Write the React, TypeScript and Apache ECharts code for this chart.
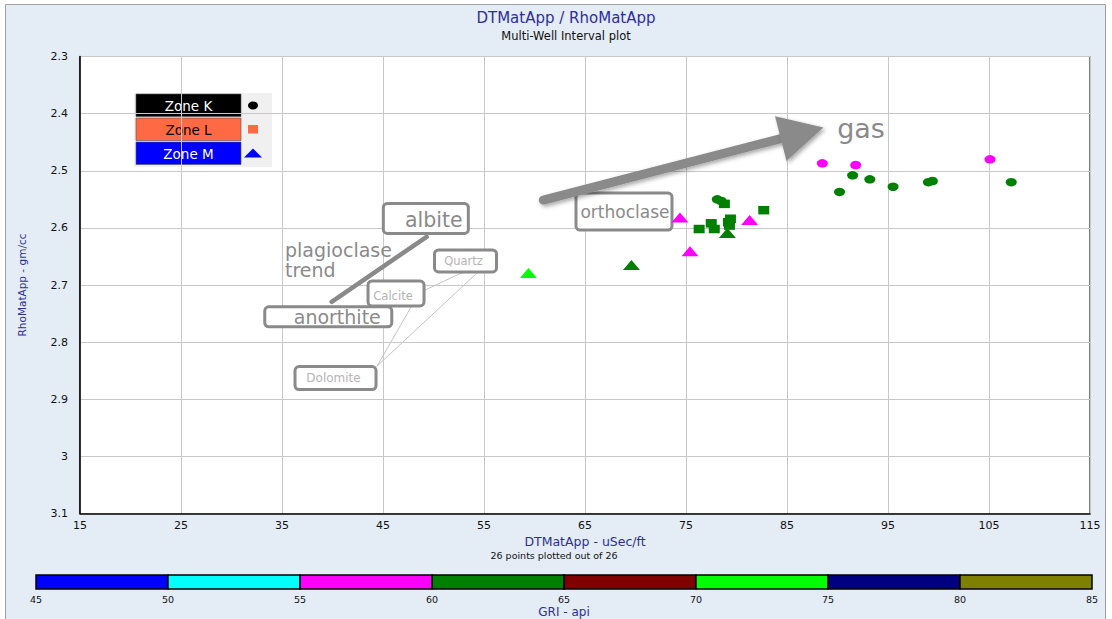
import React, { useEffect, useRef } from 'react';
import * as echarts from 'echarts';

// ---- axis ticks ----
const X_TICKS = [15, 25, 35, 45, 55, 65, 75, 85, 95, 105, 115];
const Y_TICKS = [2.3, 2.4, 2.5, 2.6, 2.7, 2.8, 2.9, 3.0, 3.1];
const GRI_TICKS = [45, 50, 55, 60, 65, 70, 75, 80, 85];
const GRI_COLORS = ['#0000FF', '#00FFFF', '#FF00FF', '#008000', '#800000', '#00FF00', '#000080', '#808000'];

// ---- zones (legend) ----
const ZONES = ['Zone K', 'Zone L', 'Zone M'];
const ZONE_COLORS = ['#000000', '#FF6A45', '#0000FF'];
const ZONE_TEXT = ['#ffffff', '#000000', '#ffffff'];

// ---- data: [DTMatApp, RhoMatApp, GRI] ----
const ZONE_K = [
  [88.5, 2.487, 57], [91.8, 2.490, 57], [105.1, 2.480, 57],
  [91.5, 2.508, 62], [93.2, 2.515, 62], [90.2, 2.537, 62], [95.5, 2.528, 62],
  [99.0, 2.520, 62], [99.4, 2.518, 62], [107.2, 2.520, 62],
  [78.1, 2.550, 62], [78.5, 2.553, 62],
];
const ZONE_L = [
  [78.8, 2.558, 62], [82.7, 2.569, 62], [76.3, 2.602, 62], [77.5, 2.592, 62],
  [77.8, 2.602, 62], [79.4, 2.584, 62], [79.3, 2.596, 62], [79.2, 2.590, 62],
];
const ZONE_M = [
  [79.1, 2.609, 62], [74.4, 2.582, 57], [81.3, 2.586, 57], [75.4, 2.641, 57],
  [59.4, 2.679, 72], [69.6, 2.665, 62],
];

// ---- mineral annotations (data coordinates) ----
const BOX_LABELS: [string, number, number][] = [
  ['albite', 49.24, 2.5834],
  ['anorthite', 39.58, 2.7557],
  ['Quartz', 53.17, 2.6578],
  ['Calcite', 46.29, 2.7147],
  ['Dolomite', 40.30, 2.863],
  ['orthoclase', 68.86, 2.5715],
];
const FREE_TEXTS: [string, number, number][] = [
  ['plagioclase', 35.3, 2.639],
  ['trend', 35.3, 2.674],
  ['gas', 92.33, 2.4252],
];
const THIN_LINES = [
  [55.89, 2.6529, 49.16, 2.7089],
  [55.89, 2.6529, 44.41, 2.8420],
  [48.17, 2.7264, 44.41, 2.8420],
];
const TREND_LINE = [[39.92, 2.7294, 49.32, 2.6156]];
const GAS_ARROW = [[60.87, 2.5513, 88.6, 2.4245]];

// ---- styles (not data) ----
const FONT = 'DejaVu Sans';
const BOX_STYLE: Record<string, { w: number; h: number; size: number; color: string; dx: number; dy: number }> = {
  albite: { w: 85, h: 30, size: 20.5, color: '#8a8a8a', dx: 8, dy: 2 },
  anorthite: { w: 127, h: 20, size: 19, color: '#8a8a8a', dx: 9, dy: 0 },
  Quartz: { w: 62, h: 22, size: 11.5, color: '#b4b4b4', dx: -2, dy: 0 },
  Calcite: { w: 56, h: 25, size: 11.5, color: '#b4b4b4', dx: -3, dy: 3 },
  Dolomite: { w: 81, h: 23, size: 12, color: '#b4b4b4', dx: -2, dy: 0 },
  orthoclase: { w: 96, h: 37, size: 17, color: '#8a8a8a', dx: 1, dy: 0 },
};
const FREE_STYLE: Record<string, { size: number; align: string; vAlign: string }> = {
  plagioclase: { size: 19, align: 'left', vAlign: 'middle' },
  trend: { size: 19, align: 'left', vAlign: 'middle' },
  gas: { size: 27, align: 'center', vAlign: 'middle' },
};
const NAVY = '#2E2E9A';

function griColor(g: number) {
  let i = Math.floor((g - GRI_TICKS[0]) / (GRI_TICKS[1] - GRI_TICKS[0]));
  i = Math.max(0, Math.min(GRI_COLORS.length - 1, i));
  return GRI_COLORS[i];
}

function buildOption() {
  const step = (a: number[]) => +(a[1] - a[0]).toFixed(6);
  const bins = GRI_TICKS.slice(0, -1).map((v, i) => [v, GRI_TICKS[i + 1], i]);

  const legendChildren: any[] = [
    { type: 'rect', shape: { x: 0, y: 0, width: 138, height: 74 }, style: { fill: '#f0f0f0' } },
  ];
  ZONES.forEach((z, i) => {
    const y0 = 1 + i * 24;
    legendChildren.push({
      type: 'rect', shape: { x: 2, y: y0, width: 105, height: 22.5 },
      style: { fill: ZONE_COLORS[i], stroke: '#555', lineWidth: 0.6 },
    });
    legendChildren.push({
      type: 'text', x: 54.5, y: y0 + 11.5,
      style: { text: z, fill: ZONE_TEXT[i], fontSize: 13.5, fontFamily: FONT, align: 'center', verticalAlign: 'middle' },
    });
    const cx = 119, cy = y0 + 11.5;
    if (i === 0) legendChildren.push({ type: 'ellipse', shape: { cx, cy, rx: 5, ry: 4 }, style: { fill: ZONE_COLORS[i] } });
    if (i === 1) legendChildren.push({ type: 'rect', shape: { x: cx - 5, y: cy - 4.5, width: 10, height: 8.5 }, style: { fill: ZONE_COLORS[i] } });
    if (i === 2) legendChildren.push({ type: 'polygon', shape: { points: [[cx - 9, cy + 4], [cx + 9, cy + 4], [cx, cy - 5]] }, style: { fill: ZONE_COLORS[i] } });
  });

  const colorItem = (p: any) => griColor(p.value[2]);
  const lineRender = (width: number, color: string) => (params: any, api: any) => {
    const p1 = api.coord([api.value(0), api.value(1)]);
    const p2 = api.coord([api.value(2), api.value(3)]);
    return {
      type: 'line', shape: { x1: p1[0], y1: p1[1], x2: p2[0], y2: p2[1] },
      style: { stroke: color, lineWidth: width, lineCap: 'round' },
    };
  };

  return {
    animation: false,
    backgroundColor: '#ffffff',
    title: {
      text: 'DTMatApp / RhoMatApp',
      subtext: 'Multi-Well Interval plot',
      left: 561, top: 5, textAlign: 'center', itemGap: 5,
      textStyle: { fontSize: 15, color: NAVY, fontWeight: 'normal', fontFamily: FONT },
      subtextStyle: { fontSize: 11.5, color: '#111', fontFamily: FONT },
    },
    graphic: [
      { type: 'rect', z: -10, shape: { x: 5.5, y: 4.5, width: 1100, height: 620 }, style: { fill: '#E4ECF6', stroke: '#a0a0a0', lineWidth: 1 } },
      { type: 'group', x: 134, y: 93, z: 100, children: legendChildren },
      {
        type: 'text', x: 554, y: 555, z: 100,
        style: { text: '26 points plotted out of 26', fontSize: 9.5, fill: '#111', fontFamily: FONT, align: 'center', verticalAlign: 'middle' },
      },
    ],
    grid: [
      { left: 80, top: 56.5, width: 1010, height: 457, show: true, backgroundColor: '#ffffff', borderColor: '#000', borderWidth: 1 },
      { left: 36, top: 575, width: 1056, height: 15 },
    ],
    xAxis: [
      {
        type: 'value', gridIndex: 0,
        min: X_TICKS[0], max: X_TICKS[X_TICKS.length - 1], interval: step(X_TICKS),
        name: 'DTMatApp - uSec/ft', nameLocation: 'middle', nameGap: 20,
        nameTextStyle: { color: NAVY, fontSize: 12.5, fontFamily: FONT },
        axisLine: { show: true, lineStyle: { color: '#000', width: 1.5 } },
        axisTick: { show: false },
        axisLabel: { color: '#111', fontSize: 11, fontFamily: FONT, margin: 6 },
        splitLine: { show: true, lineStyle: { color: '#c8c8c8', width: 1 } },
      },
      {
        type: 'value', gridIndex: 1,
        min: GRI_TICKS[0], max: GRI_TICKS[GRI_TICKS.length - 1], interval: step(GRI_TICKS),
        name: 'GRI - api', nameLocation: 'middle', nameGap: 17,
        nameTextStyle: { color: NAVY, fontSize: 12, fontFamily: FONT },
        axisLine: { show: false }, axisTick: { show: false }, splitLine: { show: false },
        axisLabel: { color: '#111', fontSize: 9.5, fontFamily: FONT, margin: 5 },
      },
    ],
    yAxis: [
      {
        type: 'value', gridIndex: 0, inverse: true,
        min: Y_TICKS[0], max: Y_TICKS[Y_TICKS.length - 1], interval: step(Y_TICKS),
        name: 'RhoMatApp - gm/cc', nameLocation: 'middle', nameGap: 53,
        nameTextStyle: { color: NAVY, fontSize: 10.5, fontFamily: FONT },
        axisLine: { show: true, lineStyle: { color: '#000', width: 1.5 } },
        axisTick: { show: false },
        axisLabel: { color: '#111', fontSize: 11, fontFamily: FONT, margin: 12, formatter: (v: number) => String(+v.toFixed(1)) },
        splitLine: { show: true, lineStyle: { color: '#c8c8c8', width: 1 } },
      },
      { type: 'value', gridIndex: 1, min: 0, max: 1, show: false },
    ],
    series: [
      {
        type: 'custom', name: 'thin', xAxisIndex: 0, yAxisIndex: 0, z: 2, silent: true,
        data: THIN_LINES, renderItem: lineRender(1, '#c4c4c4'),
      },
      {
        type: 'custom', name: 'trend', xAxisIndex: 0, yAxisIndex: 0, z: 2, silent: true,
        data: TREND_LINE, renderItem: lineRender(4.5, '#8a8a8a'),
      },
      {
        type: 'custom', name: 'boxes', xAxisIndex: 0, yAxisIndex: 0, z: 3, silent: true,
        data: BOX_LABELS.map((b) => [b[1], b[2]]),
        renderItem: (params: any, api: any) => {
          const b = BOX_LABELS[params.dataIndex];
          const st = BOX_STYLE[b[0]];
          const c = api.coord([api.value(0), api.value(1)]);
          return {
            type: 'group',
            children: [
              { type: 'rect', shape: { x: c[0] - st.w / 2, y: c[1] - st.h / 2, width: st.w, height: st.h, r: 4 }, style: { fill: '#ffffff', stroke: '#8a8a8a', lineWidth: 3 } },
              { type: 'text', x: c[0] + st.dx, y: c[1] + st.dy, style: { text: b[0], fill: st.color, fontSize: st.size, fontFamily: FONT, align: 'center', verticalAlign: 'middle' } },
            ],
          };
        },
      },
      {
        type: 'custom', name: 'texts', xAxisIndex: 0, yAxisIndex: 0, z: 3, silent: true,
        data: FREE_TEXTS.map((t) => [t[1], t[2]]),
        renderItem: (params: any, api: any) => {
          const t = FREE_TEXTS[params.dataIndex];
          const st = FREE_STYLE[t[0]];
          const c = api.coord([api.value(0), api.value(1)]);
          return { type: 'text', x: c[0], y: c[1], style: { text: t[0], fill: '#8a8a8a', fontSize: st.size, fontFamily: FONT, align: st.align, verticalAlign: st.vAlign } };
        },
      },
      {
        type: 'custom', name: 'gasArrow', xAxisIndex: 0, yAxisIndex: 0, z: 3, silent: true,
        data: GAS_ARROW,
        renderItem: (params: any, api: any) => {
          const p1 = api.coord([api.value(0), api.value(1)]);
          const p2 = api.coord([api.value(2), api.value(3)]);
          const dx = p2[0] - p1[0], dy = p2[1] - p1[1];
          const len = Math.sqrt(dx * dx + dy * dy);
          const ux = dx / len, uy = dy / len;
          const px = -uy, py = ux;
          const headL = 44, headW = 23;
          const bx = p2[0] - ux * headL, by = p2[1] - uy * headL;
          const shadow = { shadowBlur: 4, shadowColor: 'rgba(0,0,0,0.35)', shadowOffsetX: 2, shadowOffsetY: 2 };
          return {
            type: 'group',
            children: [
              { type: 'line', shape: { x1: p1[0], y1: p1[1], x2: bx + ux * 4, y2: by + uy * 4 }, style: { stroke: '#8a8a8a', lineWidth: 9, lineCap: 'round', ...shadow } },
              { type: 'polygon', shape: { points: [[p2[0], p2[1]], [bx + px * headW, by + py * headW], [bx - px * headW, by - py * headW]] }, style: { fill: '#8a8a8a', ...shadow } },
            ],
          };
        },
      },
      {
        type: 'scatter', name: ZONES[0], xAxisIndex: 0, yAxisIndex: 0, z: 5,
        symbol: 'circle', symbolSize: [11, 8.5], data: ZONE_K,
        itemStyle: { color: colorItem, opacity: 1 },
      },
      {
        type: 'scatter', name: ZONES[1], xAxisIndex: 0, yAxisIndex: 0, z: 5,
        symbol: 'rect', symbolSize: [11, 8.5], data: ZONE_L,
        itemStyle: { color: colorItem, opacity: 1 },
      },
      {
        type: 'scatter', name: ZONES[2], xAxisIndex: 0, yAxisIndex: 0, z: 5,
        symbol: 'triangle', symbolSize: [17, 10], data: ZONE_M,
        itemStyle: { color: colorItem, opacity: 1 },
      },
      {
        type: 'custom', name: 'colorbar', xAxisIndex: 1, yAxisIndex: 1, silent: true,
        data: bins,
        renderItem: (params: any, api: any) => {
          const a = api.coord([api.value(0), 0]);
          const b = api.coord([api.value(1), 1]);
          return {
            type: 'rect',
            shape: { x: a[0], y: b[1], width: b[0] - a[0], height: a[1] - b[1] },
            style: { fill: GRI_COLORS[api.value(2)], stroke: '#000', lineWidth: 1.5 },
          };
        },
      },
    ],
  };
}

export default function App() {
  const ref = useRef<HTMLDivElement>(null);
  useEffect(() => {
    document.body.style.margin = '0';
    const chart = echarts.init(ref.current as HTMLDivElement, null, { renderer: 'svg' });
    chart.setOption(buildOption() as any);
    return () => chart.dispose();
  }, []);
  return <div ref={ref} style={{ width: 1112, height: 619 }} />;
}
